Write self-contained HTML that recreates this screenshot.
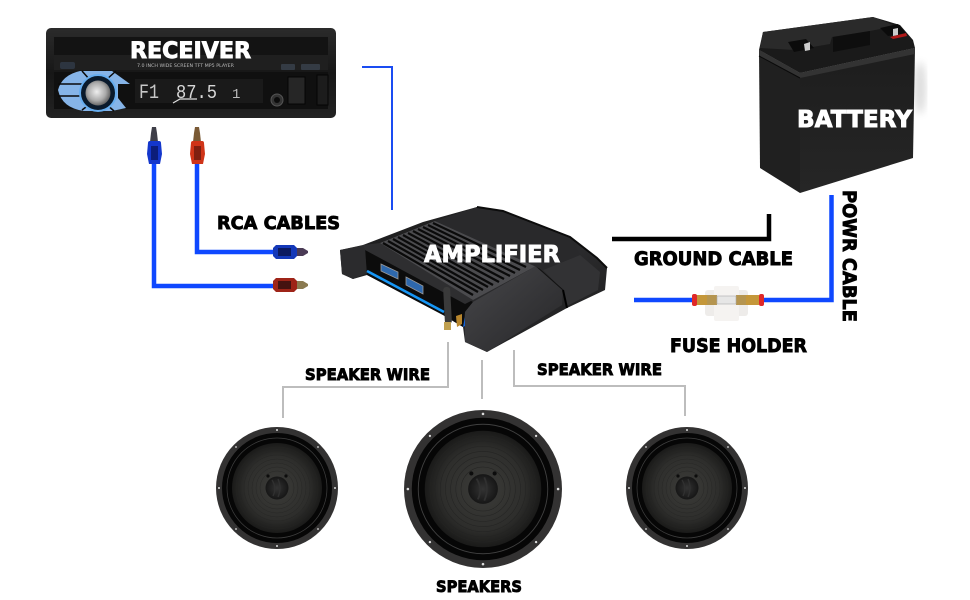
<!DOCTYPE html>
<html><head><meta charset="utf-8"><style>
html,body{margin:0;padding:0;background:#fff}
svg{display:block}
text{font-family:"DejaVu Sans","Liberation Sans",sans-serif;font-weight:700}
</style></head><body>
<svg width="970" height="600" viewBox="0 0 970 600" xmlns="http://www.w3.org/2000/svg">
<defs>
<linearGradient id="rb" x1="0" y1="0" x2="0" y2="1"><stop offset="0" stop-color="#2b2b2b"/><stop offset=".5" stop-color="#171717"/><stop offset="1" stop-color="#222"/></linearGradient>
<radialGradient id="knob" cx=".45" cy=".45" r=".6"><stop offset="0" stop-color="#eee"/><stop offset=".6" stop-color="#aaa"/><stop offset="1" stop-color="#555"/></radialGradient>
<linearGradient id="amp" x1="0" y1="0" x2="1" y2="1"><stop offset="0" stop-color="#1a1a1a"/><stop offset=".6" stop-color="#2a2a2c"/><stop offset="1" stop-color="#1c1c1c"/></linearGradient>
<linearGradient id="ampb" x1="0" y1="0" x2="1" y2="1"><stop offset="0" stop-color="#47474a"/><stop offset="1" stop-color="#262628"/></linearGradient>
<radialGradient id="cone" cx=".5" cy=".5" r=".5"><stop offset="0" stop-color="#3c3c39"/><stop offset=".7" stop-color="#2e2e2c"/><stop offset="1" stop-color="#1a1a19"/></radialGradient>
<radialGradient id="cap" cx=".5" cy=".5" r=".5"><stop offset="0" stop-color="#333"/><stop offset="1" stop-color="#161616"/></radialGradient>
<linearGradient id="bf" x1="0" y1="0" x2="0" y2="1"><stop offset="0" stop-color="#1d1d1d"/><stop offset="1" stop-color="#262626"/></linearGradient>
<filter id="bl"><feGaussianBlur stdDeviation="4"/></filter>
<g id="spk">
<circle r="61" fill="#333232"/>
<circle r="55" fill="#060606"/>
<circle r="50" fill="none" stroke="#404040" stroke-width=".7"/>
<circle r="45" fill="url(#cone)"/>
<g fill="none" stroke="#242423" stroke-width=".4">
<circle r="41"/><circle r="37"/><circle r="33"/><circle r="29"/><circle r="25"/><circle r="21"/><circle r="17"/>
</g>
<circle cx="0" cy="0" r="11.500" fill="url(#cap)"/>
<path d="M-5-8 Q0 0-4 8M1-9Q5 0 1 9" stroke="#303030" stroke-width="1.400" fill="none"/>
<circle cx="-9" cy="-12" r="1.600" fill="#0c0c0c"/><circle cx="9" cy="-12" r="1.600" fill="#0c0c0c"/>
<g fill="#ddd">
<circle cy="-58" r="1"/><circle cy="58" r="1"/><circle cx="-58" r="1"/><circle cx="58" r="1"/>
<circle cx="-41" cy="-41" r=".9"/><circle cx="41" cy="-41" r=".9"/><circle cx="-41" cy="41" r=".9"/><circle cx="41" cy="41" r=".9"/>
</g>
</g>
</defs>

<!-- connectors -->
<path d="M362 67H392V210" fill="none" stroke="#1a4cf2" stroke-width="2"/>
<path d="M154 160V286H276" fill="none" stroke="#0f48ff" stroke-width="4.500"/>
<path d="M197 160V252H276" fill="none" stroke="#0f48ff" stroke-width="4.500"/>
<path d="M612 239H769V214" fill="none" stroke="#000" stroke-width="4.500"/>
<path d="M634 300H831.500V195" fill="none" stroke="#0f48ff" stroke-width="4.500"/>
<path d="M448 342V387H283V418" fill="none" stroke="#bdbdbd" stroke-width="2"/>
<path d="M482 360V399" fill="none" stroke="#bdbdbd" stroke-width="2"/>
<path d="M514 350V386H685V416" fill="none" stroke="#bdbdbd" stroke-width="2"/>

<!-- receiver -->
<rect x="46" y="28" width="290" height="90" rx="5" fill="url(#rb)"/>
<rect x="54" y="37" width="274" height="18" fill="#131313"/>
<path d="M54 55H328V70H54Z" fill="#1f1f1f"/>
<rect x="54" y="72" width="274" height="37" fill="#101010"/>
<rect x="60" y="62" width="15" height="7" rx="2" fill="#2d3540"/>
<rect x="281" y="64" width="14" height="6" rx="1" fill="#343b44"/>
<rect x="301" y="64" width="19" height="6" rx="1" fill="#343b44"/>
<path d="M58 90Q62 75 80 71H112L130 84H118V98L126 108L112 111H84Q62 108 58 90Z" fill="#86b4e8"/>
<path d="M58 84H82M58 96H82M82 71L90 80M82 110L90 104M106 80L116 71M106 104L114 111" stroke="#0a0a0a" stroke-width="1.500" fill="none"/>
<circle cx="98" cy="93" r="18" fill="#0a1a2c" stroke="#67aef0" stroke-width="2"/>
<circle cx="98" cy="93" r="12.500" fill="url(#knob)"/>
<rect x="135" y="79" width="128" height="24" fill="#1a1a1a"/>
<text x="139" y="98" font-size="20" fill="#c8c8c8" textLength="20" lengthAdjust="spacingAndGlyphs" style="font-weight:400;font-family:'Liberation Mono',monospace">F1</text>
<text x="176" y="98" font-size="19" fill="#d8d8d8" textLength="41" lengthAdjust="spacingAndGlyphs" style="font-weight:400;font-family:'Liberation Mono',monospace">87.5</text>
<text x="232" y="98" font-size="14" fill="#bbb" style="font-weight:400;font-family:'Liberation Mono',monospace">1</text>
<path d="M173 103L180 99H197" stroke="#ddd" stroke-width="1.200" fill="none"/>
<circle cx="277" cy="100" r="6" fill="#333" stroke="#555"/><circle cx="277" cy="100" r="3" fill="#0b0b0b"/>
<rect x="288" y="77" width="17" height="27" fill="#262626" stroke="#050505"/>
<rect x="317" y="75" width="11" height="30" fill="#1c1c1c" stroke="#050505"/>
<text x="137" y="67" font-size="4.500" fill="#bbb" textLength="97" lengthAdjust="spacingAndGlyphs" style="font-weight:400">7.0 INCH WIDE SCREEN TFT MP5 PLAYER</text>
<text x="130" y="58" font-size="22" fill="#fff" textLength="121" lengthAdjust="spacingAndGlyphs" stroke="#fff" stroke-width=".9">RECEIVER</text>

<!-- RCA plugs -->
<g>
<path d="M152 127h4l1 6 1 9h-8l1-9z" fill="#3e3e48"/><path d="M148 143q0-2 2-2h9q2 0 2 2l1 11-2 10h-11l-2-10z" fill="#1437cc"/><rect x="151" y="146" width="7" height="14" fill="#0c1d7a"/>
<path d="M195 127h4l1 6 1 9h-8l1-9z" fill="#7a5a35"/><path d="M191 143q0-2 2-2h9q2 0 2 2l1 11-2 10h-11l-2-10z" fill="#cf3418"/><rect x="194" y="146" width="7" height="14" fill="#7f1f10"/>
<path d="M296 248h7l5 3v2l-5 3h-7z" fill="#4a3a55"/><path d="M273 248l3-3h18l3 3v8l-3 3h-18l-3-3z" fill="#1438b8"/><rect x="278" y="248" width="13" height="8" fill="#0b1a60"/>
<path d="M296 281h7l5 3v2l-5 3h-7z" fill="#8a7a50"/><path d="M273 281l3-3h18l3 3v8l-3 3h-18l-3-3z" fill="#9e2418"/><rect x="278" y="281" width="13" height="8" fill="#451210"/>
</g>

<!-- amplifier -->
<path d="M340 250L363 245L423 222L477 207L503 211L570 237L597 258L607 268L605 290L567 308L487 352L465 342L463 327L443 315L367 275L353 279L342 274Z" fill="url(#amp)"/>
<path d="M340 250L365 245L367 273L353 279L342 274Z" fill="#2b2b2d"/>
<path d="M365 247L473 302L465 312L463 327L443 315L367 275Z" fill="#0c0c0c"/>
<path d="M367 271L444 312" stroke="#1696f5" stroke-width="2.600"/>
<path d="M463 327l8-4v-8l-6 2z" fill="#1464d8"/>
<path d="M363 245L380 243L473 300L465 304L365 250Z" fill="#2e2e30"/>
<path d="M380 243L435 221L536 266L473 300Z" fill="#4b4b4e"/>
<g stroke="#0a0a0a" stroke-width="2.300" fill="none">
<path d="M383 243L473 295"/><path d="M388 241L478 292"/><path d="M393 239L483 290"/><path d="M398 237L488 287"/><path d="M403 235L493 285"/><path d="M408 233L499 282"/><path d="M413 231L504 279"/><path d="M418 229L510 276"/><path d="M423 227L515 273"/><path d="M428 225L520 270"/><path d="M433 223L526 267"/>
</g>
<path d="M473 302L536 266L563 290L562 305L487 352L465 342L465 312Z" fill="url(#ampb)"/>
<path d="M543 270L580 255L600 272L598 290L567 306L563 290Z" fill="#323234"/>
<path d="M563 290L567 308" stroke="#000" stroke-width="2"/>
<path d="M536 266L563 290" stroke="#111" stroke-width="1"/>
<path d="M435 221L477 207L503 211L570 237L580 255L543 270Z" fill="#29292b"/>
<path d="M477 207L503 211L570 237L597 258L607 268" fill="none" stroke="#0c0c0c" stroke-width="2"/>
<g fill="#2e68ac" stroke="#999" stroke-width=".8">
<path d="M381 264l17 8v7l-17-8z"/><path d="M406 277l17 9v8l-17-9z"/>
</g>
<rect x="444" y="287" width="7" height="37" rx="3" fill="#3a3a3a" transform="rotate(-3 447 305)"/>
<rect x="444" y="322" width="7" height="8" fill="#c0a050"/>
<path d="M456 316l6-2v10l-5 3z" fill="#b8862d"/>
<text x="424" y="262" font-size="23" fill="#fff" textLength="136" lengthAdjust="spacingAndGlyphs" stroke="#fff" stroke-width=".9">AMPLIFIER</text>

<!-- battery -->
<ellipse cx="920" cy="88" rx="6" ry="26" fill="#ddd" filter="url(#bl)"/>
<path d="M759 50L763 32L873 17L900 25L913 40L915 48L800 73Z" fill="#1a1a1a"/>
<path d="M763 32L873 17L896 26L870 31L832 37L830 44L795 50L760 48Z" fill="#2a2a2a"/>
<path d="M788 42l18-3 8 9-20 4z" fill="#0b0b0b"/><path d="M804 44l6-2v8l-5 1z" fill="#ccc"/>
<path d="M880 28l18-4 8 9-18 3z" fill="#0b0b0b"/><path d="M893 29l5-1v7l-5 1z" fill="#ccc"/>
<path d="M890 37l16-4 1 3-14 3z" fill="#b01818"/>
<path d="M833 37l37-6v14l-37 7z" fill="#0e0e0e"/>
<path d="M759 50L800 73V193L760 168Z" fill="#202020"/>
<path d="M800 73L915 48L913 158L800 193Z" fill="url(#bf)"/>
<path d="M759 50L800 73L915 48V54L800 78L759 56Z" fill="#333"/>
<path d="M759 56L800 78" stroke="#0a0a0a" stroke-width="1"/>
<text x="797" y="127" font-size="23" fill="#fff" textLength="115" lengthAdjust="spacingAndGlyphs" stroke="#fff" stroke-width=".9">BATTERY</text>

<!-- fuse holder -->
<rect x="705" y="290" width="43" height="26" rx="3" fill="#eeecea"/>
<rect x="714" y="286" width="25" height="35" rx="2" fill="#f5f3f1"/>
<rect x="696" y="295" width="11" height="10" fill="#c4973a"/>
<rect x="746" y="295" width="13" height="10" fill="#c4973a"/>
<rect x="707" y="295" width="10" height="10" fill="#b59550"/>
<rect x="736" y="295" width="10" height="10" fill="#b59550"/>
<rect x="692" y="294" width="5" height="12" rx="2" fill="#e02828"/>
<rect x="759" y="294" width="5" height="12" rx="2" fill="#e02828"/>
<rect x="717" y="296" width="19" height="8" fill="#e6e6e6" stroke="#aaa" stroke-width=".6"/>

<!-- speakers -->
<use href="#spk" transform="translate(277 488)"/>
<use href="#spk" transform="translate(483 489) scale(1.295)"/>
<use href="#spk" transform="translate(687 488)"/>

<!-- labels -->
<g fill="#000" stroke="#000" stroke-width=".9">
<text x="217" y="229" font-size="18" textLength="123" lengthAdjust="spacingAndGlyphs">RCA CABLES</text>
<text x="634" y="265" font-size="19" textLength="159" lengthAdjust="spacingAndGlyphs">GROUND CABLE</text>
<text x="670" y="352" font-size="19" textLength="137" lengthAdjust="spacingAndGlyphs">FUSE HOLDER</text>
<text transform="translate(843 190) rotate(90)" font-size="19" textLength="132" lengthAdjust="spacingAndGlyphs">POWR CABLE</text>
<text x="305" y="380" font-size="16" textLength="125" lengthAdjust="spacingAndGlyphs">SPEAKER WIRE</text>
<text x="537" y="375" font-size="16" textLength="125" lengthAdjust="spacingAndGlyphs">SPEAKER WIRE</text>
<text x="436" y="592" font-size="16" textLength="86" lengthAdjust="spacingAndGlyphs">SPEAKERS</text>
</g>
</svg>
</body></html>
